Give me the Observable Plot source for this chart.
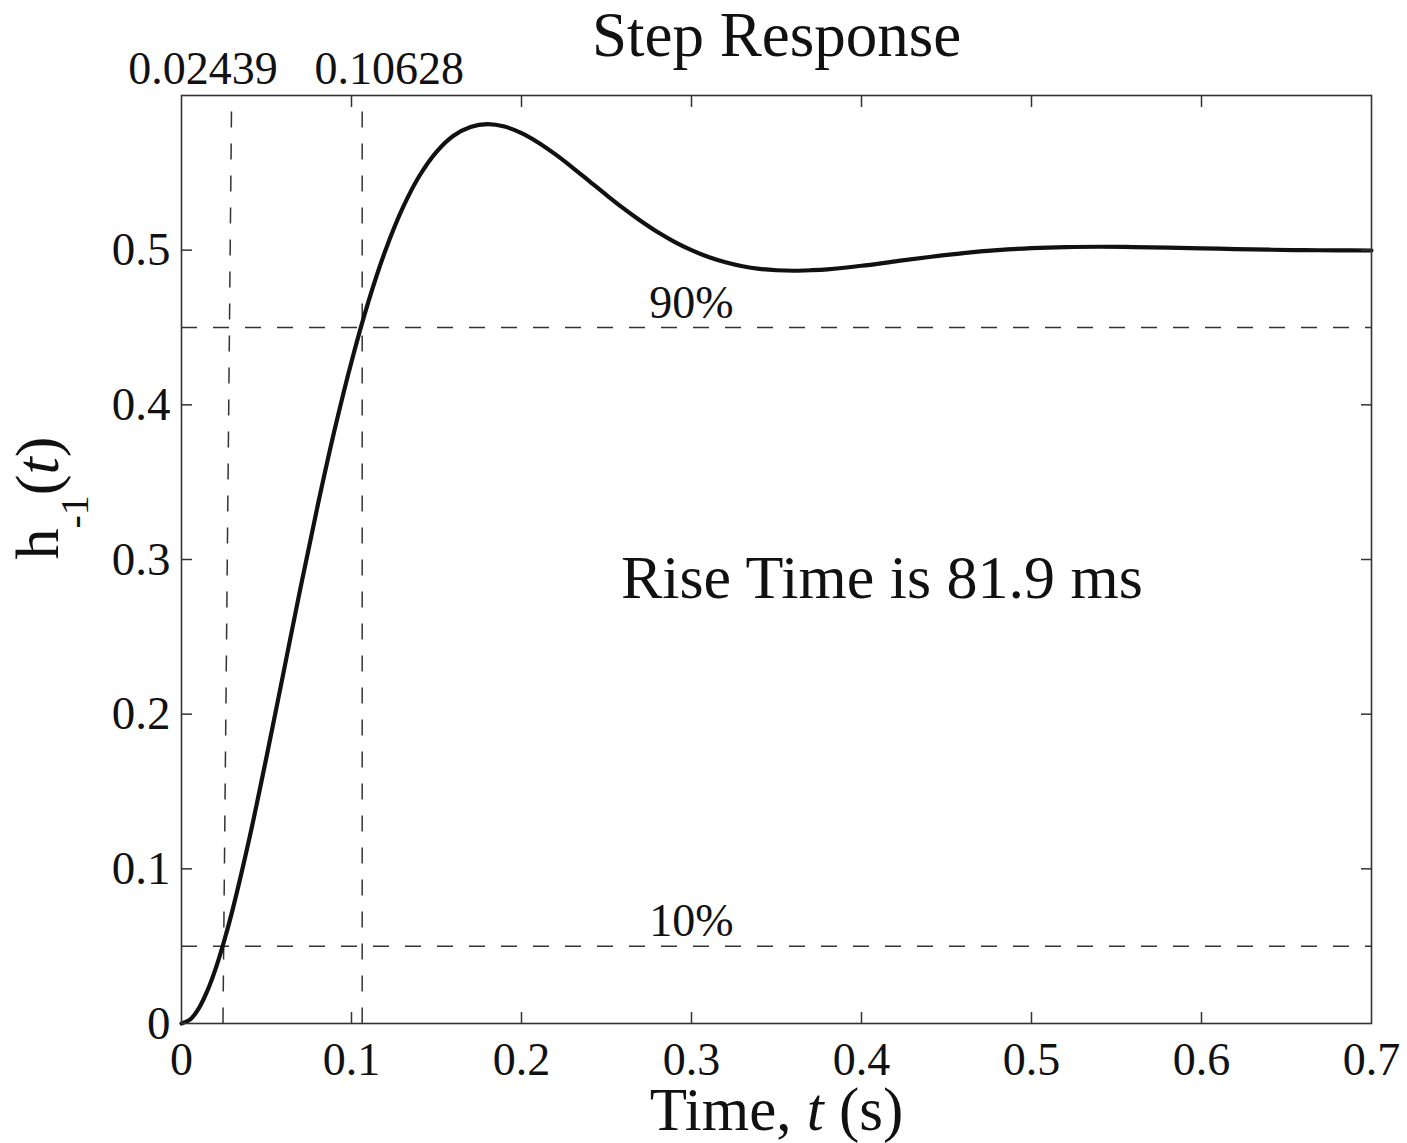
<!DOCTYPE html>
<html>
<head>
<meta charset="utf-8">
<script src="https://cdn.jsdelivr.net/npm/d3@7"></script>
<script src="https://cdn.jsdelivr.net/npm/@observablehq/plot@0.6"></script>
<style>
  html, body { margin: 0; padding: 0; background: #ffffff; }
  #chart { width: 1407px; height: 1143px; }
</style>
</head>
<body>
<div id="chart"></div>
<script>
// ---- data ----
const timeValues = [
  0, 0.005, 0.01, 0.015, 0.02, 0.025, 0.03, 0.04, 0.05, 0.06, 0.07, 0.08, 0.09,
  0.10, 0.11, 0.12, 0.13, 0.14, 0.15, 0.16, 0.17, 0.18, 0.19,
  0.20, 0.21, 0.22, 0.23, 0.24, 0.25, 0.26, 0.27, 0.28, 0.29,
  0.30, 0.31, 0.32, 0.33, 0.34, 0.35, 0.36, 0.37, 0.38,
  0.40, 0.42, 0.44, 0.46, 0.48, 0.50, 0.52, 0.54, 0.56, 0.58,
  0.60, 0.62, 0.64, 0.66, 0.68, 0.70
];
const responseValues = [
  0, 0.0025, 0.0095, 0.0206, 0.0352, 0.0530, 0.0733, 0.1201, 0.1723, 0.2269, 0.2816, 0.3343, 0.3835,
  0.4279, 0.4669, 0.5000, 0.5270, 0.5481, 0.5636, 0.5740, 0.5797, 0.5815, 0.5799,
  0.5757, 0.5695, 0.5619, 0.5534, 0.5445, 0.5356, 0.5270, 0.5190, 0.5117, 0.5054,
  0.5000, 0.4956, 0.4922, 0.4896, 0.4879, 0.4870, 0.4867, 0.4870, 0.4876,
  0.4899, 0.4928, 0.4956, 0.4981, 0.5000, 0.5013, 0.5020, 0.5022, 0.5020, 0.5016,
  0.5012, 0.5007, 0.5003, 0.5000, 0.4999, 0.4998
];

const riseTimes = [0.02439, 0.10628];        // 10% and 90% crossing times
const riseTimeTopX = [0.0294, 0.10628];      // where the dashed markers end at the top
const markerTop = 0.59;
const levelValues = [0.05, 0.45];            // 10% and 90% of final value
const levelLabels = ["10%", "90%"];
const levelLabelX = 0.3;
const riseLabel = "Rise Time is 81.9 ms";
const riseLabelPos = {x: 0.412, y: 0.288};

const xTicks = [0, 0.1, 0.2, 0.3, 0.4, 0.5, 0.6, 0.7];
const yTicks = [0, 0.1, 0.2, 0.3, 0.4, 0.5];
const xInnerTicks = [0.1, 0.2, 0.3, 0.4, 0.5, 0.6];
const yInnerTicks = [0.1, 0.2, 0.3, 0.4, 0.5];

const titleText = "Step Response";
const xLabelText = "Time, t (s)";
const yLabelText = "h-1(t)";

// ---- build table ----
const response = timeValues.map((t, i) => ({t, h: responseValues[i]}));
const levels = levelValues.map((v, i) => ({v, label: levelLabels[i]}));
const markers = riseTimes.map((x, i) => ({x1: x, x2: riseTimeTopX[i], y1: 0, y2: markerTop}));

const fmt = d3.format("~g");
const ink = "#111";
const lineGray = "#333";
const font = "'Liberation Serif', 'Times New Roman', serif";

const chart = Plot.plot({
  width: 1407,
  height: 1143,
  marginLeft: 181,
  marginRight: 36,
  marginTop: 95,
  marginBottom: 120,
  style: {fontFamily: font, background: "#ffffff", color: ink, overflow: "visible"},
  x: {domain: [0, 0.7], label: null},
  y: {domain: [0, 0.6], label: null},
  marks: [
    Plot.ruleY(levels, {y: "v", stroke: lineGray, strokeWidth: 1.5, strokeDasharray: "16,16"}),
    Plot.link(markers, {x1: "x1", y1: "y1", x2: "x2", y2: "y2", stroke: lineGray, strokeWidth: 1.5, strokeDasharray: "16,16"}),
    Plot.line(response, {x: "t", y: "h", stroke: ink, strokeWidth: 4.2, curve: "catmull-rom"}),
    Plot.frame({stroke: lineGray, strokeWidth: 1.6}),
    Plot.axisX(xInnerTicks, {anchor: "bottom", tickSize: -11, tickFormat: () => "", stroke: lineGray, strokeWidth: 1.5, label: null}),
    Plot.axisX(xInnerTicks, {anchor: "top", tickSize: -11, tickFormat: () => "", stroke: lineGray, strokeWidth: 1.5, label: null}),
    Plot.axisY(yInnerTicks, {anchor: "left", tickSize: -11, tickFormat: () => "", stroke: lineGray, strokeWidth: 1.5, label: null}),
    Plot.axisY(yInnerTicks, {anchor: "right", tickSize: -11, tickFormat: () => "", stroke: lineGray, strokeWidth: 1.5, label: null}),
    Plot.axisX(xTicks, {anchor: "bottom", tickSize: 0, tickPadding: 19, tickFormat: fmt, fontSize: 46, fill: ink, label: null}),
    Plot.axisY(yTicks, {anchor: "left", tickSize: 0, tickPadding: 11, tickFormat: fmt, fontSize: 47, fill: ink, label: null}),
    Plot.text(levels, {x: levelLabelX, y: "v", text: "label", lineAnchor: "bottom", dy: -10, fontSize: 46, fill: ink}),
    Plot.text([riseTimes[0]], {x: d => d, frameAnchor: "top", text: d => String(d), lineAnchor: "bottom", dy: -12, dx: -20, fontSize: 46, fill: ink}),
    Plot.text([riseTimes[1]], {x: d => d, frameAnchor: "top", text: d => String(d), lineAnchor: "bottom", dy: -12, dx: 27, fontSize: 46, fill: ink}),
    Plot.text([riseLabel], {x: riseLabelPos.x, y: riseLabelPos.y, text: d => d, fontSize: 62, fill: ink}),
    Plot.text([titleText], {frameAnchor: "top", text: d => d, lineAnchor: "bottom", dy: -40, fontSize: 63, fill: ink}),
    Plot.text([xLabelText], {frameAnchor: "bottom", text: d => d, lineAnchor: "bottom", dy: 106, fontSize: 61, fill: ink}),
    Plot.text([yLabelText], {frameAnchor: "left", text: d => d, rotate: -90, dx: -143, fontSize: 62, fill: ink})
  ]
});

document.getElementById("chart").appendChild(chart);

// rich formatting for the axis labels (italic t, subscript -1)
const NS = "http://www.w3.org/2000/svg";
function span(txt, attrs) {
  const s = document.createElementNS(NS, "tspan");
  s.textContent = txt;
  for (const k in attrs) s.setAttribute(k, attrs[k]);
  return s;
}
chart.querySelectorAll("text").forEach(el => {
  if (el.textContent === xLabelText) {
    el.textContent = "";
    el.appendChild(span("Time, ", {}));
    el.appendChild(span("t", {"font-style": "italic"}));
    el.appendChild(span(" (s)", {}));
  } else if (el.textContent === yLabelText) {
    el.textContent = "";
    el.appendChild(span("h", {}));
    el.appendChild(span("-1", {"font-size": "40px", dy: "30"}));
    el.appendChild(span("(", {dy: "-30"}));
    el.appendChild(span("t", {"font-style": "italic"}));
    el.appendChild(span(")", {}));
  }
});
</script>
</body>
</html>
